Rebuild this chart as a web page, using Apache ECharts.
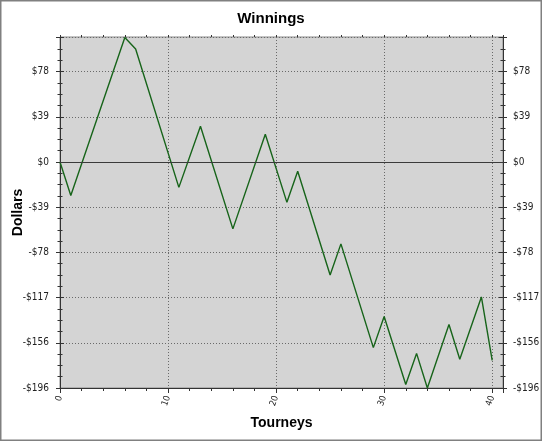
<!DOCTYPE html>
<html>
<head>
<meta charset="utf-8">
<script src="https://cdn.jsdelivr.net/npm/echarts@6/dist/echarts.min.js"></script>
<style>
html,body{margin:0;padding:0;background:#fff;}
#c{width:542px;height:441px;}
</style>
</head>
<body>
<div id="c"></div>
<script>
// Data (vertices of the winnings line)
const tourneys = [0, 1, 6, 7, 11, 13, 16, 19, 21, 22, 25, 26, 29, 30, 32, 33, 34, 36, 37, 39, 40];
const dollars  = [0, -29, 108, 98, -22, 31, -58, 24, -35, -8, -98, -71, -161, -134, -193, -166, -196, -141, -171, -117, -172];
const titleText = 'Winnings';
const xName = 'Tourneys';
const yName = 'Dollars';
const yMin = -196, yMax = 108.4, yInterval = 39.2;
const xMin = 0, xMax = 41, xInterval = 10;

const points = tourneys.map((t, i) => [t, dollars[i]]);
const tickFont = "'Liberation Sans Narrow','DejaVu Sans Condensed','Liberation Sans',sans-serif";
const fmtDollar = v => {
  const a = Math.trunc(Math.abs(v) + 1e-6);
  return (v < -1e-6 ? '-' : '') + '$' + a;
};
const gridLine = {show: true, lineStyle: {color: '#6a6a6a', type: [1, 2], width: 1}};
const axisLineStyle = {show: true, onZero: false, lineStyle: {color: '#333', width: 1}};

function yAx(pos, labels, inside) {
  return {
    type: 'value', position: pos, min: yMin, max: yMax, interval: yInterval,
    gridIndex: 0,
    name: (pos === 'left' && labels) ? yName : '',
    nameLocation: 'middle', nameGap: 35, nameRotate: 90, nameMoveOverlap: false,
    nameTextStyle: {fontFamily: 'Liberation Sans, Arial, sans-serif', fontWeight: 'bold', fontSize: 14, color: '#000'},
    axisLine: axisLineStyle,
    axisTick: {show: true, inside: inside, length: 4, lineStyle: {color: '#333'}},
    minorTick: {show: true, splitNumber: 4, length: 2.5, lineStyle: {color: '#333'}},
    axisLabel: {show: labels, showMaxLabel: false, margin: pos === 'left' ? 11 : 10,
      fontFamily: tickFont, fontSize: 10, color: '#222', formatter: fmtDollar},
    splitLine: (pos === 'left' && labels) ? gridLine : {show: false},
    minorSplitLine: {show: false}
  };
}

const chart = echarts.init(document.getElementById('c'), null, {renderer: 'canvas'});
chart.setOption({
  animation: false,
  backgroundColor: '#fff',
  title: {
    text: titleText, left: 'center', top: 6,
    textStyle: {fontFamily: 'Liberation Sans, Arial, sans-serif', fontWeight: 'bold', fontSize: 15, color: '#000'}
  },
  grid: {
    left: 60, right: 39, top: 37, bottom: 53,
    containLabel: false, outerBoundsMode: 'none',
    show: true, backgroundColor: '#d4d4d4', borderColor: '#8a8a8a', borderWidth: 1
  },
  xAxis: [
    {
      type: 'value', position: 'bottom', min: xMin, max: xMax, interval: xInterval,
      name: xName, nameLocation: 'middle', nameGap: 28, nameMoveOverlap: false,
      nameTextStyle: {fontFamily: 'Liberation Sans, Arial, sans-serif', fontWeight: 'bold', fontSize: 14, color: '#000'},
      axisLine: axisLineStyle,
      axisTick: {show: true, length: 5, lineStyle: {color: '#333'}},
      minorTick: {show: true, splitNumber: 5, length: 3, lineStyle: {color: '#333'}},
      axisLabel: {show: true, showMaxLabel: false, rotate: 70, margin: 8,
        fontFamily: tickFont, fontSize: 9, color: '#222'},
      splitLine: gridLine
    },
    {
      type: 'value', position: 'top', min: xMin, max: xMax, interval: xInterval,
      axisLine: {show: false, onZero: false},
      axisTick: {show: true, length: 2, lineStyle: {color: '#333'}},
      minorTick: {show: true, splitNumber: 5, length: 2, lineStyle: {color: '#333'}},
      axisLabel: {show: false}, splitLine: {show: false}
    }
  ],
  yAxis: [
    yAx('left', true, false),
    yAx('left', false, true),
    yAx('right', true, false),
    yAx('right', false, true)
  ],
  series: [{
    type: 'line', xAxisIndex: 0, yAxisIndex: 0,
    data: points, showSymbol: false, symbol: 'none',
    lineStyle: {color: '#17641a', width: 1.4},
    markLine: {
      silent: true, symbol: ['none', 'none'], label: {show: false},
      lineStyle: {color: '#3a3a3a', type: 'solid', width: 1},
      data: [{yAxis: 0}]
    }
  }],
  graphic: [{
    type: 'rect', shape: {x: 0.5, y: 0.5, width: 541, height: 440},
    style: {fill: 'none', stroke: '#808080', lineWidth: 2}, silent: true
  }]
});
</script>
</body>
</html>
